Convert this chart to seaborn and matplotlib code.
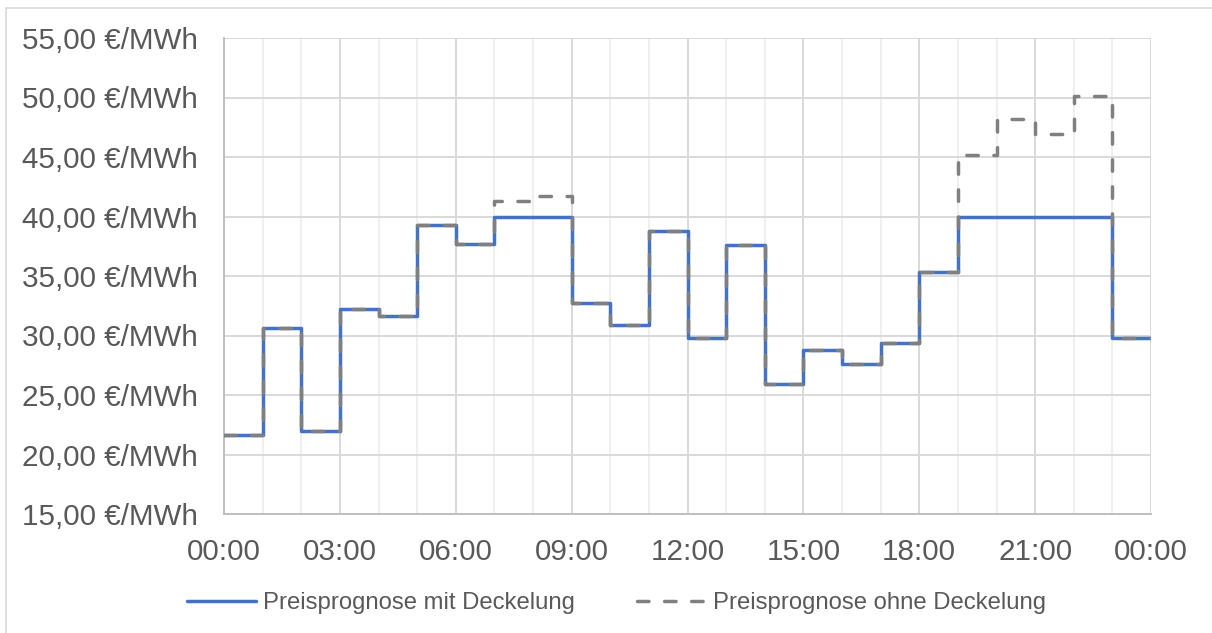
import numpy as np
import pandas as pd
import seaborn as sns
import matplotlib.pyplot as plt
from matplotlib.patches import Rectangle
from matplotlib.lines import Line2D
from matplotlib.ticker import FixedLocator, FuncFormatter

# Hourly day-ahead price forecast (EUR/MWh), one value per hour 00:00 .. 23:00
hours = list(range(24))
price_capped = [21.6, 30.6, 22.0, 32.2, 31.6, 39.3, 37.7, 40.0, 40.0, 32.7, 30.9, 38.8,
                29.8, 37.6, 25.9, 28.8, 27.6, 29.4, 35.3, 40.0, 40.0, 40.0, 40.0, 29.8]
price_uncapped = [21.6, 30.6, 22.0, 32.2, 31.6, 39.3, 37.7, 41.3, 41.7, 32.7, 30.9, 38.8,
                  29.8, 37.6, 25.9, 28.8, 27.6, 29.4, 35.3, 45.2, 48.2, 46.9, 50.1, 29.8]
label_capped = "Preisprognose mit Deckelung"
label_uncapped = "Preisprognose ohne Deckelung"
y_ticks = [15, 20, 25, 30, 35, 40, 45, 50, 55]
x_tick_labels = ["00:00", "03:00", "06:00", "09:00", "12:00", "15:00", "18:00", "21:00", "00:00"]

# step edges: each hourly value is held until the next hour, last one until 24:00
def step_frame(values):
    return pd.DataFrame({"hour": hours + [24], "price": values + [values[-1]]})

sns.set_theme(style="white")
plt.rcParams["font.family"] = ["Liberation Sans", "DejaVu Sans"]

fig = plt.figure(figsize=(12.12, 6.33), dpi=100)
ax = fig.add_axes([224 / 1212, 1 - 514 / 633, (1151 - 224) / 1212, (514 - 38) / 633])

blue = "#4472C4"
grey = "#808080"
lw = 2.5
dash = (0, (3.3, 4.5))

sns.lineplot(data=step_frame(price_capped), x="hour", y="price", ax=ax,
             color=blue, linewidth=lw, drawstyle="steps-post", zorder=3)
sns.lineplot(data=step_frame(price_uncapped), x="hour", y="price", ax=ax,
             color=grey, linewidth=lw, drawstyle="steps-post", zorder=4,
             dashes=False, linestyle=dash, dash_capstyle="round")

ax.set_xlim(0, 24)
ax.set_ylim(15, 55)
ax.xaxis.set_major_locator(FixedLocator(list(range(0, 25, 3))))
ax.xaxis.set_minor_locator(FixedLocator(list(range(0, 25))))
ax.set_xticklabels(x_tick_labels)
ax.yaxis.set_major_locator(FixedLocator(y_ticks))
ax.yaxis.set_major_formatter(FuncFormatter(lambda v, p: f"{v:,.2f}".replace(".", ",") + " €/MWh"))

ax.grid(which="minor", axis="x", color="#ececec", linewidth=1.2)
ax.grid(which="major", axis="x", color="#d9d9d9", linewidth=1.4)
ax.grid(which="major", axis="y", color="#d9d9d9", linewidth=1.4)
ax.set_axisbelow(True)

for side in ["top", "right"]:
    ax.spines[side].set_visible(False)
for side in ["left", "bottom"]:
    ax.spines[side].set_color("#bfbfbf")
    ax.spines[side].set_linewidth(1.4)

ax.tick_params(axis="both", which="both", length=0, labelsize=21.3, colors="#595959")
ax.tick_params(axis="x", pad=17)
ax.tick_params(axis="y", pad=19)
ax.set_xlabel("")
ax.set_ylabel("")

handles = [Line2D([], [], color=blue, linewidth=lw),
           Line2D([], [], color=grey, linewidth=lw, linestyle=dash, dash_capstyle="round")]
fig.legend(handles, [label_capped, label_uncapped], loc="center",
           bbox_to_anchor=(616.5 / 1212, 1 - 603 / 633), ncol=2, frameon=False,
           fontsize=17.2, labelcolor="#595959", handlelength=2.9,
           handletextpad=0.3, columnspacing=2.6)

# chart-area frame
fig.patches.append(Rectangle((6 / 1212, -0.05), 1.1, 1 - 8 / 633 + 0.05,
                             transform=fig.transFigure, fill=False,
                             edgecolor="#d9d9d9", linewidth=1.2))

fig.savefig("out.png", dpi=100)
